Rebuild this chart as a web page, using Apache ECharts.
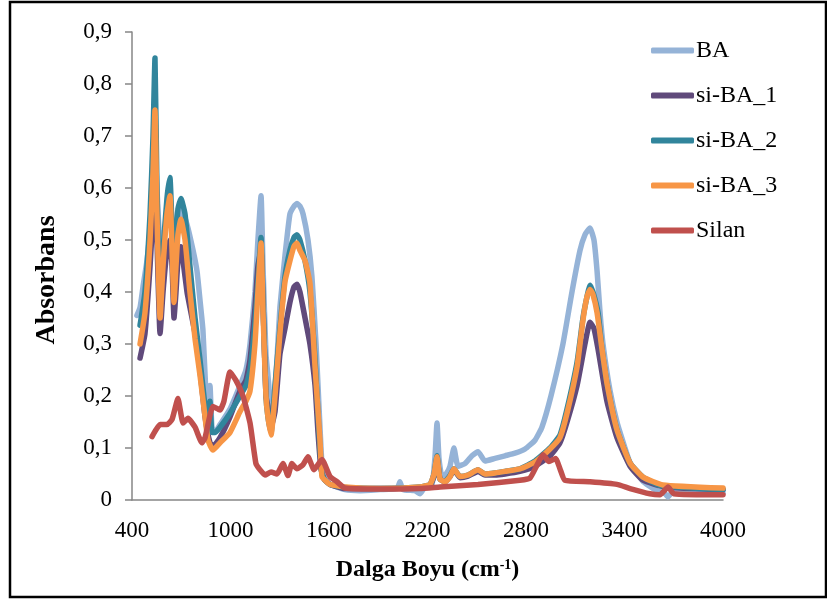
<!DOCTYPE html>
<html>
<head>
<meta charset="utf-8">
<script src="https://cdn.jsdelivr.net/npm/echarts@6/dist/echarts.min.js"></script>
<style>
html,body{margin:0;padding:0;background:#fff;}
#chart{width:827px;height:601px;}
</style>
</head>
<body>
<div id="chart"></div>
<script>
var seriesNames = ['BA', 'si-BA_1', 'si-BA_2', 'si-BA_3', 'Silan'];
var seriesColors = ['#95B3D7', '#604A7B', '#31859C', '#F79646', '#C0504D'];
var xTicks = [400, 1000, 1600, 2200, 2800, 3400, 4000];

var baData = [[430,0.355],[449,0.37],[467,0.41],[491,0.46],[510,0.52],[528,0.62],[540,0.68],[552,0.6],[571,0.5],[601,0.52],[631,0.58],[656,0.5],[680,0.54],[698,0.56],[735,0.53],[772,0.48],[796,0.44],[814,0.385],[832,0.327],[851,0.2],[863,0.16],[875,0.22],[887,0.14],[906,0.13],[936,0.145],[997,0.175],[1058,0.22],[1094,0.25],[1119,0.3],[1149,0.4],[1167,0.5],[1186,0.585],[1198,0.45],[1216,0.28],[1228,0.24],[1247,0.18],[1265,0.19],[1283,0.27],[1301,0.37],[1332,0.47],[1362,0.55],[1387,0.565],[1405,0.57],[1423,0.565],[1442,0.55],[1472,0.5],[1496,0.43],[1521,0.3],[1539,0.18],[1557,0.07],[1576,0.04],[1606,0.03],[1697,0.02],[1789,0.018],[1911,0.02],[2015,0.022],[2032,0.035],[2050,0.02],[2123,0.018],[2154,0.012],[2184,0.025],[2227,0.03],[2245,0.08],[2258,0.148],[2270,0.08],[2288,0.045],[2313,0.05],[2337,0.065],[2361,0.10],[2386,0.065],[2428,0.07],[2471,0.085],[2508,0.093],[2550,0.075],[2611,0.08],[2672,0.085],[2733,0.09],[2794,0.098],[2855,0.115],[2897,0.14],[2952,0.2],[3025,0.3],[3080,0.4],[3129,0.48],[3159,0.51],[3190,0.523],[3214,0.5],[3233,0.44],[3251,0.36],[3269,0.3],[3312,0.21],[3354,0.15],[3403,0.1],[3434,0.072],[3513,0.036],[3586,0.02],[3647,0.012],[3665,0.006],[3689,0.014],[3860,0.014],[4000,0.013]];

var siBa1Data = [[449,0.273],[479,0.32],[510,0.45],[528,0.55],[540,0.62],[552,0.5],[571,0.32],[589,0.40],[613,0.48],[631,0.50],[644,0.45],[656,0.35],[668,0.40],[680,0.46],[698,0.487],[711,0.46],[735,0.40],[753,0.37],[784,0.32],[814,0.25],[845,0.16],[875,0.11],[893,0.103],[936,0.12],[997,0.16],[1058,0.21],[1094,0.23],[1119,0.27],[1149,0.37],[1167,0.45],[1186,0.48],[1198,0.38],[1216,0.2],[1228,0.18],[1247,0.14],[1271,0.17],[1301,0.28],[1332,0.33],[1362,0.38],[1387,0.41],[1405,0.415],[1423,0.40],[1454,0.35],[1484,0.30],[1515,0.22],[1533,0.13],[1551,0.06],[1570,0.04],[1606,0.03],[1697,0.022],[1911,0.022],[2154,0.024],[2215,0.028],[2240,0.045],[2258,0.08],[2276,0.04],[2307,0.035],[2337,0.045],[2361,0.058],[2398,0.043],[2447,0.046],[2508,0.055],[2550,0.048],[2611,0.048],[2672,0.05],[2763,0.055],[2855,0.065],[2946,0.085],[3007,0.11],[3050,0.15],[3111,0.22],[3159,0.30],[3190,0.342],[3214,0.33],[3239,0.29],[3293,0.19],[3354,0.12],[3434,0.065],[3513,0.038],[3647,0.025],[4000,0.02]];

var siBa2Data = [[449,0.336],[479,0.40],[510,0.55],[528,0.70],[540,0.85],[552,0.60],[571,0.37],[589,0.48],[613,0.58],[631,0.62],[644,0.52],[656,0.42],[668,0.50],[680,0.56],[698,0.58],[723,0.55],[753,0.45],[784,0.35],[814,0.27],[845,0.18],[863,0.14],[875,0.19],[887,0.13],[906,0.13],[936,0.14],[997,0.167],[1058,0.2],[1094,0.22],[1119,0.25],[1149,0.34],[1167,0.42],[1186,0.505],[1198,0.38],[1216,0.2],[1228,0.16],[1247,0.13],[1271,0.22],[1301,0.33],[1332,0.43],[1362,0.48],[1387,0.505],[1405,0.51],[1423,0.50],[1454,0.46],[1484,0.40],[1515,0.27],[1539,0.13],[1557,0.05],[1576,0.038],[1606,0.03],[1697,0.024],[1911,0.022],[2154,0.025],[2215,0.03],[2240,0.05],[2258,0.085],[2276,0.04],[2307,0.036],[2337,0.047],[2361,0.06],[2398,0.045],[2447,0.048],[2508,0.058],[2550,0.05],[2611,0.052],[2672,0.055],[2763,0.06],[2855,0.075],[2946,0.10],[3007,0.125],[3050,0.175],[3111,0.265],[3147,0.35],[3171,0.39],[3190,0.413],[3208,0.40],[3239,0.36],[3263,0.29],[3293,0.225],[3354,0.135],[3434,0.071],[3513,0.044],[3616,0.028],[4000,0.02]];

var siBa3Data = [[449,0.30],[479,0.36],[510,0.50],[528,0.63],[540,0.75],[552,0.55],[571,0.35],[589,0.45],[613,0.55],[631,0.585],[644,0.48],[656,0.38],[668,0.45],[680,0.51],[698,0.54],[723,0.50],[753,0.40],[784,0.31],[814,0.24],[845,0.16],[863,0.115],[893,0.096],[936,0.11],[997,0.13],[1058,0.17],[1094,0.19],[1119,0.21],[1149,0.3],[1167,0.4],[1186,0.494],[1198,0.36],[1216,0.2],[1228,0.16],[1247,0.125],[1271,0.2],[1301,0.32],[1332,0.42],[1362,0.46],[1387,0.488],[1405,0.494],[1423,0.48],[1454,0.46],[1484,0.417],[1515,0.256],[1545,0.115],[1557,0.045],[1576,0.038],[1606,0.03],[1697,0.025],[1911,0.022],[2154,0.025],[2215,0.03],[2240,0.05],[2258,0.083],[2276,0.04],[2307,0.035],[2337,0.045],[2361,0.06],[2398,0.045],[2447,0.048],[2508,0.058],[2550,0.05],[2611,0.052],[2672,0.055],[2763,0.06],[2855,0.073],[2946,0.098],[3007,0.12],[3050,0.167],[3111,0.256],[3147,0.346],[3171,0.39],[3190,0.405],[3208,0.395],[3233,0.36],[3263,0.29],[3293,0.225],[3354,0.135],[3434,0.071],[3513,0.044],[3634,0.029],[4000,0.023]];

var silanData = [[522,0.122],[571,0.145],[613,0.145],[644,0.155],[680,0.195],[711,0.148],[741,0.157],[784,0.14],[826,0.11],[845,0.12],[893,0.18],[936,0.173],[960,0.19],[997,0.246],[1033,0.23],[1076,0.2],[1119,0.148],[1155,0.07],[1180,0.058],[1210,0.048],[1247,0.054],[1283,0.05],[1320,0.07],[1350,0.047],[1374,0.07],[1405,0.06],[1442,0.068],[1472,0.083],[1509,0.058],[1557,0.078],[1606,0.045],[1649,0.035],[1697,0.023],[1911,0.021],[2154,0.022],[2276,0.025],[2508,0.03],[2763,0.038],[2824,0.042],[2867,0.067],[2903,0.087],[2940,0.074],[2980,0.08],[3007,0.06],[3037,0.038],[3190,0.035],[3354,0.03],[3434,0.022],[3555,0.012],[3616,0.01],[3665,0.025],[3700,0.012],[4000,0.01]];

var allData = [baData, siBa1Data, siBa2Data, siBa3Data, silanData];

var FONT = '"Liberation Serif", "Times New Roman", serif';
var chart = echarts.init(document.getElementById('chart'), null, {renderer: 'canvas'});

var series = seriesNames.map(function (n, i) {
  return {
    name: n,
    type: 'line',
    data: allData[i],
    showSymbol: false,
    smooth: 0.15,
    color: seriesColors[i],
    lineStyle: {width: 5.5, color: seriesColors[i], cap: 'round', join: 'round'},
    z: 2 + i
  };
});

chart.setOption({
  animation: false,
  backgroundColor: '#fff',
  grid: {left: 132, right: 104, top: 32, bottom: 101, containLabel: false},
  xAxis: {
    type: 'value',
    min: xTicks[0],
    max: xTicks[xTicks.length - 1],
    interval: 600,
    axisLine: {show: true, lineStyle: {color: '#868686', width: 1.5}},
    axisTick: {show: false},
    splitLine: {show: false},
    axisLabel: {color: '#000', fontFamily: FONT, fontSize: 23, margin: 19,
      formatter: function (v) { return String(v); }},
    name: '{t|Dalga Boyu (cm}{s|-1}{t|)}',
    nameLocation: 'middle',
    nameGap: 58,
    nameTextStyle: {
      rich: {
        t: {fontFamily: FONT, fontSize: 24, fontWeight: 'bold', color: '#000'},
        s: {fontFamily: FONT, fontSize: 14, fontWeight: 'bold', color: '#000', verticalAlign: 'top', padding: [0, 0, 10, 0]}
      }
    }
  },
  yAxis: {
    type: 'value',
    min: 0,
    max: 0.9,
    interval: 0.1,
    axisLine: {show: true, lineStyle: {color: '#868686', width: 1.5}},
    axisTick: {show: true, length: 7, lineStyle: {color: '#868686', width: 1.5}},
    splitLine: {show: false},
    axisLabel: {
      color: '#000', fontFamily: FONT, fontSize: 23, margin: 20,
      formatter: function (v) { return v === 0 ? '0' : v.toFixed(1).replace('.', ','); }
    }
  },
  legend: {
    orient: 'vertical',
    left: 651,
    top: 38,
    padding: 0,
    itemWidth: 43,
    itemHeight: 6,
    itemGap: 20,
    icon: 'roundRect',
    textStyle: {fontFamily: FONT, fontSize: 24, color: '#000', lineHeight: 25, padding: [0, 0, 0, -3]},
    data: seriesNames
  },
  graphic: [{
    type: 'rect',
    shape: {x: 10, y: 2, width: 816, height: 595},
    style: {fill: 'none', stroke: '#000', lineWidth: 2.5},
    silent: true
  }, {
    type: 'text',
    x: 47,
    y: 280,
    rotation: Math.PI / 2,
    style: {text: 'Absorbans', font: 'bold 28px ' + FONT, fill: '#000', align: 'center', verticalAlign: 'middle'},
    silent: true
  }],
  series: series
});
</script>
</body>
</html>
